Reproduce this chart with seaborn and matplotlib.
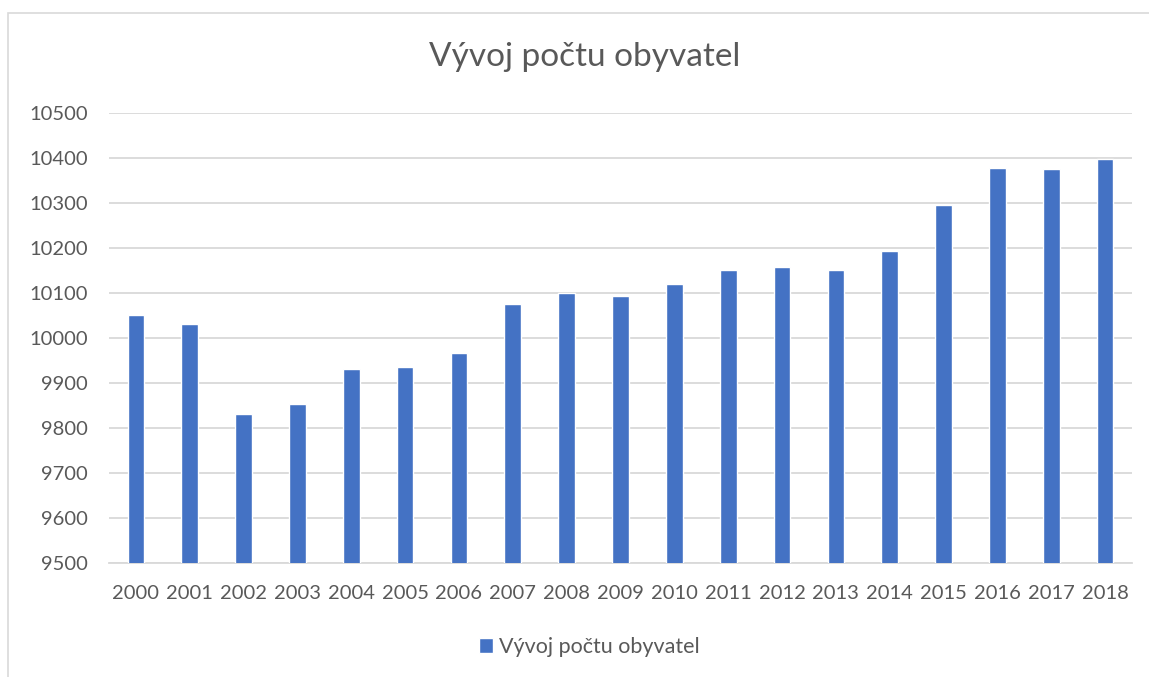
import matplotlib
matplotlib.use("Agg")
import matplotlib.pyplot as plt
import seaborn as sns
import pandas as pd
from matplotlib.patches import Rectangle

years = ["2000", "2001", "2002", "2003", "2004", "2005", "2006", "2007", "2008", "2009",
         "2010", "2011", "2012", "2013", "2014", "2015", "2016", "2017", "2018"]
population = [10050, 10030, 9830, 9852, 9930, 9934, 9965, 10074, 10100, 10093,
              10119, 10150, 10157, 10150, 10192, 10295, 10378, 10375, 10397]
y_ticks = [9500, 9600, 9700, 9800, 9900, 10000, 10100, 10200, 10300, 10400, 10500]
title = "Vývoj počtu obyvatel"
series_name = "Vývoj počtu obyvatel"

sns.set_theme(style="white")
plt.rcParams["font.family"] = ["Lato", "DejaVu Sans"]

text_color = "#595959"
grid_color = "#D9D9D9"
bar_color = "#4472C4"

fig = plt.figure(figsize=(11.49, 6.77), dpi=100)
fig.patches.append(Rectangle((8 / 1149, -0.1), 1.2, 1 - 13 / 677 + 0.1,
                             transform=fig.transFigure, fill=False,
                             edgecolor=grid_color, linewidth=1.2, zorder=0))
ax = fig.add_axes([109 / 1149, 1 - 562.7 / 677, (1132 - 109) / 1149, 450 / 677])

df = pd.DataFrame({"Rok": years, "Obyvatelé": population})
sns.barplot(data=df, x="Rok", y="Obyvatelé", color=bar_color, width=0.31,
            saturation=1, label=series_name, ax=ax, zorder=3)

ax.set_ylim(9500, 10500)
ax.set_yticks(y_ticks)
ax.set_yticklabels([str(v) for v in y_ticks])
ax.set_xlim(-0.5, len(years) - 0.5)
ax.set_xlabel("")
ax.set_ylabel("")
ax.grid(axis="y", color=grid_color, linewidth=1.3, zorder=0)
ax.set_axisbelow(True)
for s in ["top", "right", "left"]:
    ax.spines[s].set_visible(False)
ax.spines["bottom"].set_color(grid_color)
ax.spines["bottom"].set_linewidth(1.3)
ax.tick_params(axis="y", length=0, pad=15, labelsize=14.5, labelcolor=text_color)
ax.tick_params(axis="x", length=0, pad=16, labelsize=14.5, labelcolor=text_color)

fig.text(0.509, 1 - 57 / 677, title, ha="center", va="center",
         fontsize=24, color=text_color)

handles, labels = ax.get_legend_handles_labels()
ax.legend(handles, labels, loc="center", bbox_to_anchor=(0.513, 1 - 647 / 677),
          bbox_transform=fig.transFigure, frameon=False, fontsize=15.5,
          labelcolor=text_color, handlelength=0.65, handleheight=0.65,
          handletextpad=0.3)

fig.savefig("out.png", dpi=100)
